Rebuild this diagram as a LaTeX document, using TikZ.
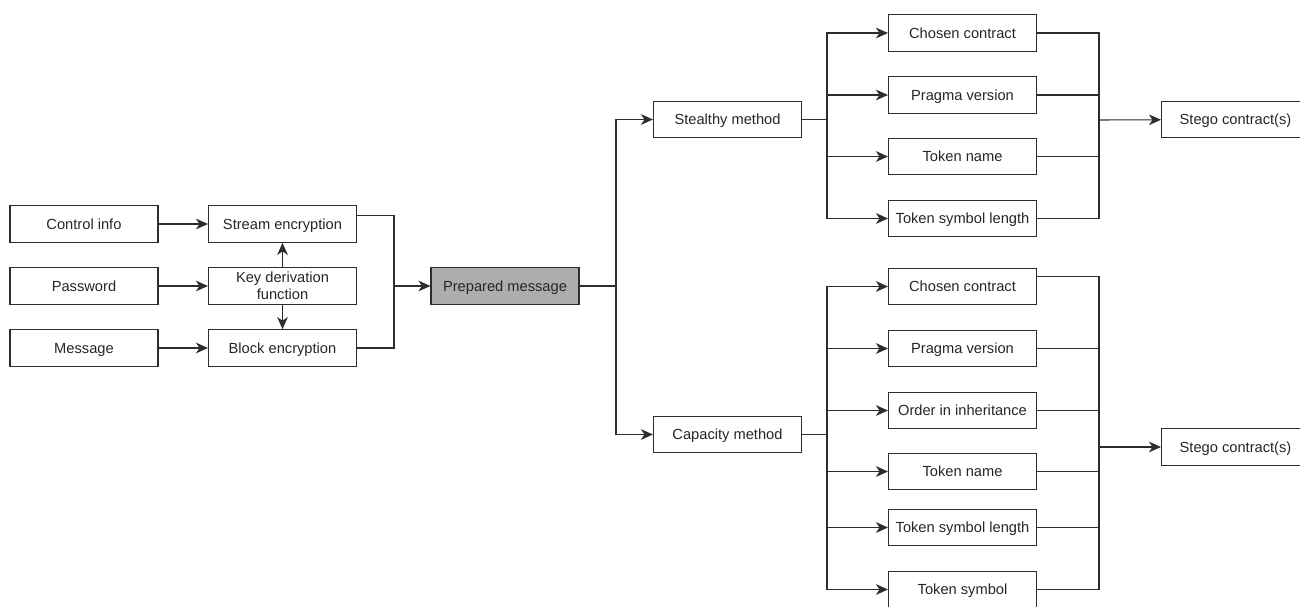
\documentclass[tikz,border=0pt]{standalone}
\usepackage{fontspec}
\setmainfont{Liberation Sans}
\usetikzlibrary{arrows.meta}

\definecolor{prepgray}{RGB}{173,173,173}
\definecolor{linegray}{RGB}{45,45,45}

\tikzset{
    box/.style={draw=linegray, line width=0.8pt, minimum width=111pt, minimum height=27.5pt, inner sep=1pt, text height=7.9pt, text depth=0pt, font=\fontsize{11}{12.75}\selectfont, text=black!85},
    wire/.style={draw=linegray, line width=0.8pt},
    arr/.style={wire, -{Stealth[length=9pt, width=8pt, inset=2.6pt]}}
}

\begin{document}
\begin{tikzpicture}[x=0.75pt, y=-0.75pt]

    \useasboundingbox (0, 0) rectangle (1300, 607);

    \node[box] (ctrl) at (84, 224) {Control info};
    \node[box] (pass) at (84, 286) {Password};
    \node[box] (msg) at (84, 348) {Message};

    \node[box] (stream) at (282.5, 224) {Stream encryption};
    \node[box, text height=, text depth=, align=center] (kdf) at (282.5, 286) {Key derivation\\function};
    \node[box] (block) at (282.5, 348) {Block encryption};

    \node[box, fill=prepgray] (prep) at (505, 286) {Prepared message};

    \node[box] (stealthy) at (727.5, 119.5) {Stealthy method};
    \node[box] (capacity) at (727.5, 434.5) {Capacity method};

    \foreach \n/\y/\t in {sa/33/Chosen contract, sb/95/Pragma version, sc/156.5/Token name, sd/218.5/Token symbol length}
        \node[box] (\n) at (962.5, \y) {\t};

    \foreach \n/\y/\t in {ca/286.5/Chosen contract, cb/348.5/Pragma version, cc/410.5/Order in inheritance, cd/471.5/Token name, ce/527.5/Token symbol length, cf/589.5/Token symbol}
        \node[box] (\n) at (962.5, \y) {\t};

    \node[box] (stegoA) at (1235.5, 119.5) {Stego contract(s)};
    \node[box] (stegoB) at (1235.5, 447) {Stego contract(s)};

    \coordinate (mergeP) at (394, 286);
    \coordinate (splitP) at (616, 286);
    \coordinate (splitS) at (827, 119.5);
    \coordinate (splitC) at (827, 434.5);
    \coordinate (joinS) at (1099, 120);
    \coordinate (joinC) at (1099, 447);

    \draw[arr] (ctrl) -- (stream);
    \draw[arr] (pass) -- (kdf);
    \draw[arr] (msg) -- (block);
    \draw[arr] (kdf) -- (stream);
    \draw[arr] (kdf) -- (block);

    \draw[wire] (stream.north east) ++(0, 10) -| (mergeP);
    \draw[wire] (block) -| (mergeP);
    \draw[arr] (mergeP) -- (prep);

    \draw[wire] (prep) -- (splitP);
    \draw[arr] (splitP) |- (stealthy);
    \draw[arr] (splitP) |- (capacity);

    \draw[wire] (stealthy) -- (splitS);
    \foreach \n in {sa, sb, sc, sd} {
        \draw[arr] (splitS) |- (\n);
        \draw[wire] (\n) -| (joinS);
    }
    \draw[arr] (joinS) -- (stegoA);

    \draw[wire] (capacity) -- (splitC);
    \foreach \n in {ca, cb, cc, cd, ce, cf}
        \draw[arr] (splitC) |- (\n);
    \draw[wire] (ca.north east) ++(0, 9) -| (joinC);
    \foreach \n in {cb, cc, cd, ce, cf}
        \draw[wire] (\n) -| (joinC);
    \draw[arr] (joinC) -- (stegoB);

\end{tikzpicture}
\end{document}
